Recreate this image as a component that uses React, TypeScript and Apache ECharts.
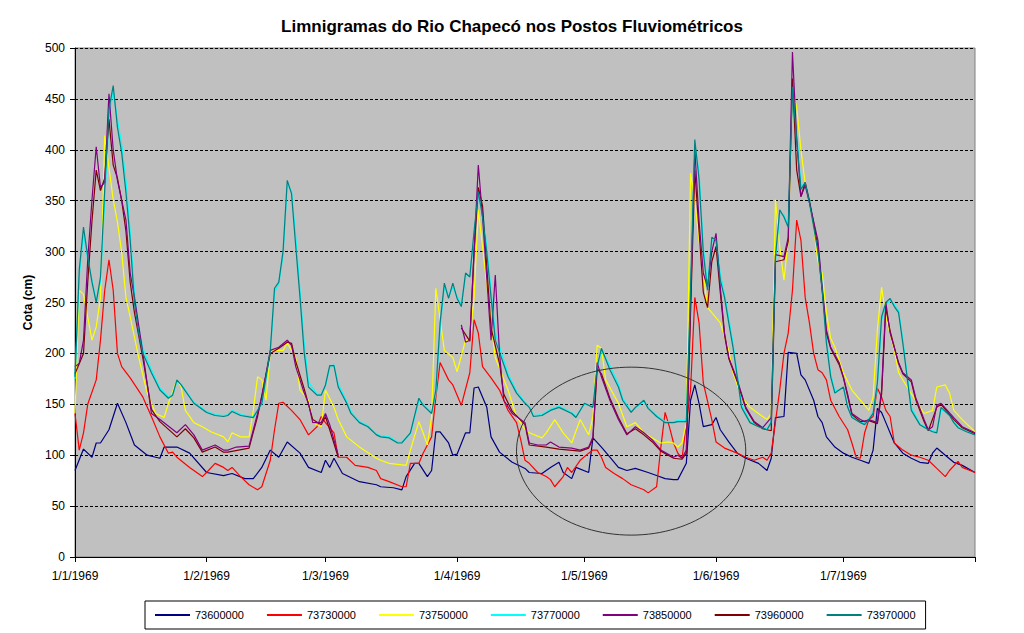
import React, { useEffect, useRef } from "react";
import * as echarts from "echarts";

// ---------- categories (daily, 1/1/1969 .. 1/8/1969) ----------
const YEAR = 1969;
const DAY_COUNT = 213;
const categories: string[] = Array.from({ length: DAY_COUNT }, (_, i) => {
  const d = new Date(Date.UTC(YEAR, 0, 1 + i));
  return `${d.getUTCDate()}/${d.getUTCMonth() + 1}/${d.getUTCFullYear()}`;
});
const monthTickLabels = ["1/1/1969", "1/2/1969", "1/3/1969", "1/4/1969", "1/5/1969", "1/6/1969", "1/7/1969"];

// ---------- series: [dayIndex, cota (cm)] ----------
type P = [number, number | null];

const s73600000: P[] = [
  [0, 85], [2, 106], [4, 98], [5, 112], [6, 112], [8, 125], [10, 151], [12, 132], [14, 110], [17, 100], [19, 98], [20, 97], [21, 108], [24, 108], [27, 102], [31, 83], [35, 80],
  [37, 82], [40, 77], [42, 77], [44, 88], [46, 105], [48, 98], [50, 113], [53, 102], [55, 88], [58, 83], [59, 95], [60, 88], [61, 97], [63, 82], [67, 74], [71, 71],
  [72, 69], [75, 68], [77, 66], [78, 79], [80, 92], [81, 92], [83, 79], [84, 85], [85, 123], [86, 123], [88, 112], [89, 100], [90, 101], [92, 122], [93, 122], [94, 166], [95, 167], [97, 147], [98, 118], [100, 103], [103, 93], [106, 87],
  [107, 83], [110, 82], [112, 88], [114, 93], [115, 83], [117, 77], [118, 88], [121, 83], [122, 117], [124, 108], [126, 98], [128, 88], [130, 85], [132, 87], [135, 83], [137, 80], [139, 77], [141, 76],
  [142, 76], [144, 92], [145, 154], [146, 169], [147, 151], [148, 128], [150, 130], [151, 137], [152, 125], [154, 113], [156, 102], [158, 97], [161, 92], [163, 85], [164, 97], [165, 137], [167, 138], [168, 201], [170, 200], [171, 179], [172, 174], [174, 154], [175, 138],
  [176, 132], [177, 118], [179, 108], [181, 102], [183, 98], [185, 95], [187, 92], [188, 105], [189, 146], [190, 142], [191, 132], [193, 112], [195, 102], [197, 97], [199, 93], [201, 92], [202, 102], [203, 107], [205, 100], [207, 93], [209, 90], [212, 83],
];

const s73730000: P[] = [
  [0, 141], [1, 105], [2, 122], [3, 150], [5, 174], [6, 213], [7, 262], [8, 292], [9, 262], [10, 200], [11, 187], [13, 176], [16, 157], [18, 138], [20, 118], [22, 102], [23, 103], [24, 98], [27, 88], [30, 79], [31, 83], [33, 92], [35, 88],
  [36, 85], [37, 88], [39, 79], [41, 71], [43, 66], [44, 69], [46, 95], [47, 125], [48, 151], [49, 152], [51, 144], [53, 135], [55, 120], [57, 128], [58, 138], [59, 132], [61, 122], [62, 98], [64, 98], [66, 90], [69, 88], [71, 85],
  [72, 77], [74, 74], [77, 69], [78, 69], [79, 92], [81, 92], [82, 102], [84, 118], [85, 157], [86, 191], [88, 174], [89, 169], [91, 149], [93, 181], [94, 233], [95, 220], [96, 187], [98, 176], [100, 164], [102, 144], [104, 132], [105, 115], [106, 95],
  [107, 92], [109, 83], [111, 79], [112, 76], [113, 69], [115, 79], [116, 88], [117, 83], [119, 95], [121, 102], [122, 105], [123, 105], [124, 98], [125, 88], [127, 82], [129, 77], [131, 71], [134, 66], [135, 63], [137, 69], [138, 108], [139, 142], [140, 128], [141, 112],
  [142, 102], [143, 97], [145, 164], [146, 255], [147, 230], [148, 171], [150, 135], [151, 113], [153, 107], [156, 102], [158, 98], [160, 95], [162, 98], [163, 95], [164, 102], [166, 164], [167, 200], [168, 220], [169, 262], [170, 331], [171, 311], [172, 255], [173, 230], [174, 200], [175, 184],
  [176, 181], [177, 174], [178, 154], [180, 138], [182, 125], [183, 112], [184, 98], [185, 97], [186, 122], [187, 135], [188, 138], [189, 166], [190, 157], [191, 144], [192, 138], [193, 112], [195, 105], [197, 100], [199, 98], [201, 95], [203, 87], [205, 79], [206, 85], [208, 94], [209, 88], [212, 83],
];

const s73750000: P[] = [
  [0, 141], [1, 262], [2, 258], [4, 213], [5, 226], [6, 255], [7, 414], [9, 351], [10, 329], [11, 299], [12, 255], [13, 236], [15, 196], [17, 161], [19, 141], [21, 137], [22, 151], [24, 174], [25, 167], [26, 144], [28, 132], [30, 128], [32, 123], [35, 118],
  [36, 113], [37, 122], [39, 118], [41, 118], [42, 144], [43, 177], [44, 174], [45, 154], [46, 201], [47, 203], [49, 203], [50, 210], [52, 196], [53, 164], [55, 154], [56, 132], [58, 128], [59, 164], [61, 147], [62, 135], [64, 118], [67, 108], [71, 97],
  [72, 95], [74, 92], [78, 90], [79, 105], [81, 133], [82, 122], [83, 110], [84, 138], [85, 264], [87, 203], [89, 196], [90, 182], [92, 213], [93, 213], [94, 255], [95, 341], [96, 305], [98, 230], [99, 196], [102, 164], [104, 138], [106, 125],
  [107, 122], [110, 117], [111, 122], [113, 135], [115, 122], [117, 112], [119, 135], [121, 120], [122, 138], [123, 208], [124, 205], [125, 174], [128, 151], [130, 128], [132, 132], [134, 122], [136, 117], [138, 112], [140, 113], [141, 112],
  [142, 108], [143, 112], [144, 132], [145, 377], [146, 350], [147, 311], [148, 279], [149, 245], [150, 240], [152, 230], [154, 203], [155, 181], [157, 157], [159, 147], [161, 141], [163, 135], [164, 141], [165, 351], [166, 305], [167, 272], [168, 311], [169, 459], [170, 442], [171, 400], [172, 367], [173, 351], [174, 324], [175, 290],
  [176, 279], [177, 240], [178, 215], [179, 206], [181, 181], [183, 164], [185, 154], [187, 144], [188, 157], [189, 223], [190, 265], [191, 236], [193, 203], [194, 181], [196, 167], [198, 154], [200, 141], [202, 144], [203, 167], [205, 169], [206, 161], [207, 144], [209, 135], [212, 123],
];

const s73770000: P[] = [
  [0, 175], [1, 275], [2, 318], [3, 292], [4, 272], [5, 252], [6, 270], [7, 350], [8, 430], [9, 458], [10, 430], [11, 405], [12, 370], [13, 320], [14, 260], [15, 225], [16, 205], [18, 184], [20, 166], [22, 157], [23, 160], [24, 172], [25, 170], [28, 152], [31, 143], [33, 140], [35, 139],
  [36, 140], [37, 144], [39, 140], [42, 138], [44, 150], [46, 200], [47, 260], [48, 268], [49, 296], [50, 365], [51, 360], [52, 315], [53, 262], [54, 210], [55, 172], [57, 160], [58, 160], [59, 168], [60, 186], [61, 189], [62, 170], [64, 153], [65, 143], [67, 133], [69, 129], [71, 121],
  [72, 119], [74, 118], [76, 113], [77, 113], [79, 121], [81, 154], [82, 150], [84, 142], [85, 160], [86, 225], [87, 266], [88, 256], [89, 265], [90, 256], [91, 248], [92, 276], [93, 277], [94, 315], [95, 355], [96, 340], [97, 305], [98, 262], [99, 220], [102, 180], [104, 163], [106, 152],
  [107, 148], [108, 139], [110, 140], [112, 145], [114, 148], [117, 142], [118, 138], [120, 150], [122, 148], [123, 185], [124, 203], [126, 188], [128, 170], [129, 156], [131, 143], [132, 146], [134, 153], [135, 147], [137, 139], [139, 133], [141, 133],
  [142, 134], [144, 134], [145, 255], [146, 405], [147, 378], [148, 305], [149, 266], [150, 310], [151, 313], [152, 278], [153, 258], [154, 235], [155, 210], [156, 180], [157, 150], [159, 133], [161, 129], [163, 126], [164, 133], [165, 290], [166, 338], [167, 336], [168, 326], [169, 455], [170, 418], [171, 365], [172, 366], [173, 352], [175, 305],
  [176, 268], [177, 215], [178, 180], [179, 163], [181, 166], [182, 149], [183, 138], [185, 133], [186, 131], [187, 136], [188, 142], [189, 168], [190, 232], [191, 248], [192, 252], [193, 248], [194, 242], [195, 214], [196, 180], [197, 147], [199, 131], [201, 126], [202, 124], [203, 123], [204, 145], [206, 140], [207, 133], [208, 128], [210, 124], [212, 121],
];

const s73850000: P[] = [
  [0, 187], [1, 190], [2, 213], [3, 292], [4, 351], [5, 403], [6, 363], [7, 368], [8, 455], [9, 400], [10, 370], [12, 331], [13, 279], [14, 255], [16, 200], [18, 141], [20, 135], [24, 122], [26, 130], [28, 120], [30, 105], [33, 110], [35, 105],
  [36, 105], [38, 108], [41, 109], [43, 141], [44, 157], [46, 203], [48, 206], [50, 213], [51, 208], [52, 187], [54, 161], [55, 151], [56, 132], [58, 132], [59, 141], [60, 130], [62, 100], [63, null],
  [91, 228], [92, 211], [93, 213], [95, 385], [96, 334], [98, 213], [99, 277], [100, 200], [101, 154], [103, 141], [106, 132],
  [107, 112], [109, 110], [111, 110], [112, 113], [114, 108], [117, 107], [119, 105], [121, 108], [122, 118], [123, 191], [124, 177], [126, 154], [128, 135], [130, 120], [132, 128], [134, 122], [136, 115], [138, 105], [141, 98],
  [142, 100], [143, 97], [144, 105], [145, 250], [146, 400], [147, 330], [148, 279], [149, 265], [150, 300], [151, 318], [152, 265], [153, 220], [154, 196], [156, 174], [158, 147], [160, 133], [162, 127], [164, 137], [165, 297], [167, 295], [168, 314], [169, 496], [170, 410], [171, 354], [172, 365], [173, 348], [175, 311], [176, 265],
  [177, 223], [178, 206], [180, 191], [181, 177], [182, 160], [183, 141], [185, 135], [186, 133], [187, 135], [189, 132], [190, 164], [191, 250], [192, 220], [194, 191], [195, 181], [197, 174], [198, 157], [200, 135], [201, 125], [202, 128], [203, 149], [204, 151], [207, 137], [209, 128], [212, 122],
];

const s73960000: P[] = [
  [0, 180], [2, 200], [3, 270], [4, 330], [5, 380], [6, 360], [7, 372], [8, 430], [9, 385], [10, 372], [11, 350], [12, 320], [13, 270], [14, 240], [16, 195], [18, 145], [20, 133], [24, 118], [26, 126], [28, 117], [30, 103], [33, 108], [35, 103],
  [36, 103], [41, 107], [43, 138], [46, 200], [48, 205], [50, 211], [51, 210], [52, 192], [54, 165], [55, 150], [56, 135], [58, 130], [59, 138], [60, 125], [62, 98], [63, null],
  [91, 225], [93, 212], [94, 300], [95, 363], [96, 345], [98, 225], [100, 190], [101, 160], [103, 143], [106, 130],
  [107, 110], [111, 108], [114, 106], [119, 104], [121, 107], [122, 116], [123, 185], [124, 180], [126, 156], [128, 137], [130, 121], [132, 126], [134, 120], [136, 113], [138, 104], [141, 97],
  [143, 96], [144, 102], [145, 240], [146, 380], [147, 320], [148, 260], [149, 245], [150, 290], [151, 305], [152, 260], [153, 218], [154, 195], [156, 172], [158, 146], [160, 132], [162, 126], [164, 124], [165, 290], [167, 292], [168, 310], [169, 470], [170, 380], [171, 354], [172, 368], [173, 350], [175, 305], [176, 262],
  [177, 220], [178, 205], [180, 189], [181, 176], [183, 140], [185, 133], [187, 134], [189, 131], [190, 160], [191, 245], [192, 222], [194, 190], [195, 180], [197, 172], [198, 155], [200, 133], [201, 124], [203, 147], [204, 150], [207, 135], [209, 127], [212, 121],
];

const s73970000: P[] = [
  [0, 177], [1, 282], [2, 324], [3, 295], [4, 270], [5, 250], [6, 275], [7, 361], [8, 440], [9, 463], [10, 422], [11, 397], [12, 358], [13, 311], [14, 250], [15, 220], [16, 200], [18, 181], [20, 164], [22, 156], [23, 159], [24, 174], [25, 169], [28, 151], [31, 142], [33, 139], [35, 138],
  [36, 139], [37, 143], [39, 139], [42, 137], [44, 151], [46, 203], [47, 264], [48, 270], [49, 300], [50, 370], [51, 357], [52, 305], [53, 255], [54, 200], [55, 167], [57, 159], [58, 159], [59, 169], [60, 188], [61, 188], [62, 167], [64, 151], [65, 141], [67, 132], [69, 128], [71, 120],
  [72, 118], [74, 117], [76, 112], [77, 112], [79, 122], [81, 156], [82, 149], [84, 141], [85, 164], [86, 230], [87, 269], [88, 254], [89, 269], [90, 254], [91, 246], [92, 279], [93, 275], [94, 320], [95, 359], [96, 334], [97, 299], [98, 255], [99, 213], [102, 177], [104, 161], [106, 151],
  [107, 147], [108, 138], [110, 139], [112, 144], [114, 147], [117, 141], [118, 137], [120, 151], [122, 147], [123, 187], [124, 205], [126, 184], [128, 167], [129, 154], [131, 142], [132, 147], [134, 154], [135, 146], [137, 138], [139, 132], [141, 132],
  [142, 133], [144, 133], [145, 262], [146, 410], [147, 371], [148, 299], [149, 262], [150, 314], [151, 311], [152, 272], [153, 255], [154, 230], [155, 206], [156, 177], [157, 147], [159, 132], [161, 128], [163, 125], [164, 132], [165, 295], [166, 341], [167, 334], [168, 324], [169, 462], [170, 410], [171, 361], [172, 368], [173, 348], [175, 300],
  [176, 262], [177, 210], [178, 177], [179, 161], [181, 167], [182, 147], [183, 137], [185, 132], [186, 130], [187, 135], [188, 141], [189, 171], [190, 236], [191, 250], [192, 254], [193, 246], [194, 240], [195, 210], [196, 177], [197, 144], [199, 130], [201, 125], [202, 123], [203, 122], [204, 147], [206, 139], [207, 132], [208, 127], [210, 123], [212, 120],
];

const seriesNames = ["73600000", "73730000", "73750000", "73770000", "73850000", "73960000", "73970000"];
const seriesData: Record<string, P[]> = {
  "73600000": s73600000,
  "73730000": s73730000,
  "73750000": s73750000,
  "73770000": s73770000,
  "73850000": s73850000,
  "73960000": s73960000,
  "73970000": s73970000,
};
const seriesColors: Record<string, string> = {
  "73600000": "#000080",
  "73730000": "#FF0000",
  "73750000": "#FFFF00",
  "73770000": "#00FFFF",
  "73850000": "#800080",
  "73960000": "#800000",
  "73970000": "#008080",
};
// drawing order (later = on top)
const drawOrder = ["73600000", "73730000", "73750000", "73770000", "73960000", "73850000", "73970000"];

// highlighted period (ellipse annotation): centre [day, cm], radii [days, cm]
const ellipseCenter = [131, 104];
const ellipseRadius = [27.1, 82.5];

const FONT = "Liberation Sans, Arial, sans-serif";

export default function App() {
  const ref = useRef<HTMLDivElement>(null);

  useEffect(() => {
    if (!ref.current) return;
    const chart = echarts.init(ref.current, null, { renderer: "svg" });
    const monthSet = new Set(monthTickLabels);
    const option: any = {
      animation: false,
      backgroundColor: "#ffffff",
      title: {
        text: "Limnigramas do Rio Chapecó nos Postos Fluviométricos",
        left: "center",
        top: 13,
        textStyle: { fontFamily: FONT, fontSize: 17, fontWeight: "bold", color: "#000" },
      },
      grid: {
        left: 75,
        right: 49,
        top: 48,
        bottom: 76,
        show: true,
        backgroundColor: "#C0C0C0",
        borderColor: "#808080",
        borderWidth: 1,
      },
      legend: {
        data: seriesNames,
        left: 145,
        top: 601,
        padding: [8, 10],
        itemGap: 23,
        itemWidth: 35,
        itemHeight: 2,
        icon: "rect",
        backgroundColor: "#ffffff",
        borderColor: "#000000",
        borderWidth: 1,
        borderRadius: 0,
        textStyle: { fontFamily: FONT, fontSize: 11, color: "#000", lineHeight: 12 },
      },
      xAxis: {
        type: "category",
        data: categories,
        boundaryGap: false,
        axisLine: { show: true, lineStyle: { color: "#000", width: 1 } },
        axisTick: {
          show: true,
          length: 5,
          lineStyle: { color: "#000" },
          interval: (idx: number, val: string) => monthSet.has(val) || idx === DAY_COUNT - 1,
        },
        axisLabel: {
          interval: (_idx: number, val: string) => monthSet.has(val),
          fontFamily: FONT,
          fontSize: 12,
          color: "#000",
          margin: 13,
        },
        splitLine: { show: false },
      },
      yAxis: {
        type: "value",
        min: 0,
        max: 500,
        interval: 50,
        name: "Cota (cm)",
        nameLocation: "middle",
        nameGap: 40,
        nameTextStyle: { fontFamily: FONT, fontSize: 12, fontWeight: "bold", color: "#000" },
        axisLine: { show: true, lineStyle: { color: "#000", width: 1 } },
        axisTick: { show: true, length: 5, lineStyle: { color: "#000" } },
        axisLabel: { fontFamily: FONT, fontSize: 12, color: "#000", margin: 10 },
        splitLine: { show: true, lineStyle: { color: "#000", width: 1, type: [3, 2] } },
      },
      series: drawOrder.map((name) => ({
        name,
        type: "line",
        data: seriesData[name],
        symbol: "none",
        showSymbol: false,
        connectNulls: false,
        lineStyle: { color: seriesColors[name], width: 1.2 },
        itemStyle: { color: seriesColors[name] },
        emphasis: { disabled: true },
      })),
    };
    chart.setOption(option);

    const c = chart.convertToPixel({ gridIndex: 0 }, [ellipseCenter[0], ellipseCenter[1]]) as number[];
    const e = chart.convertToPixel({ gridIndex: 0 }, [
      ellipseCenter[0] + ellipseRadius[0],
      ellipseCenter[1] + ellipseRadius[1],
    ]) as number[];
    chart.setOption({
      graphic: [
        {
          type: "ellipse",
          silent: true,
          z: 100,
          shape: { cx: c[0], cy: c[1], rx: Math.abs(e[0] - c[0]), ry: Math.abs(c[1] - e[1]) },
          style: { fill: "none", stroke: "#333333", lineWidth: 1 },
        },
      ],
    });

    return () => chart.dispose();
  }, []);

  return (
    <div
      ref={ref}
      style={{ position: "fixed", left: 0, top: 0, width: 1024, height: 633, background: "#fff" }}
    />
  );
}
